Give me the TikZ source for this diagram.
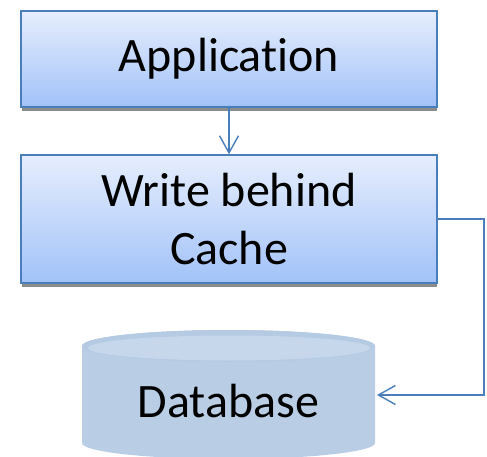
\documentclass[tikz,border=0pt]{standalone}
\usepackage{fontspec}
\setmainfont[Ligatures={NoCommon}]{Carlito}
\usetikzlibrary{arrows.meta}
\definecolor{boxedge}{HTML}{4A7EBB}
\definecolor{boxtop}{HTML}{E6EEFD}
\definecolor{boxbot}{HTML}{A2C2F8}
\definecolor{dbbody}{HTML}{B9CDE5}
\definecolor{dbrim}{HTML}{B5CAE3}
\definecolor{dbcap}{HTML}{C6D7EC}
\tikzset{
  procbox/.style={draw=boxedge, line width=1.6pt, top color=boxtop, bottom color=boxbot,
    minimum width=416pt, align=center, font=\fontsize{48}{58}\selectfont, inner sep=0pt},
  boxshadow/.style={fill=black!45},
  link/.style={draw=boxedge, line width=1.4pt, -{Straight Barb[length=17pt,width=19pt,line width=1.4pt]}},
  dblabel/.style={font=\fontsize{48}{58}\selectfont, inner sep=0pt}
}
\begin{document}
\begin{tikzpicture}[x=1pt,y=-1pt]
\useasboundingbox (0,0) rectangle (487,457);
% drop shadows under the two boxes
\fill[boxshadow] (22,107) rectangle (437,111);
\fill[boxshadow] (22,283) rectangle (437,287);
% boxes
\node[procbox, minimum height=96pt] (app) at (229,59) {Application};
\node[procbox, minimum height=128pt] (cache) at (229,219) {Write behind\\Cache};
% database cylinder (y axis points down, so the lower rim runs through 90 degrees)
\fill[dbbody] (82,346) -- (82,443) arc[start angle=180, end angle=0, x radius=146.5, y radius=16]
  -- (375,346) arc[start angle=360, end angle=180, x radius=146.5, y radius=16] -- cycle;
\fill[dbrim] (228.5,346) ellipse[x radius=146.5, y radius=16];
\fill[dbcap] (229,348) ellipse[x radius=141, y radius=12.5];
\node[dblabel] (db) at (228.5,401) {Database};
\coordinate (dbin) at (377,395);
\coordinate (turn) at (484,395);
% connectors
\draw[link] (app.south) -- (cache.north);
\draw[link] (cache.east) -| (turn) -- (dbin);
\end{tikzpicture}
\end{document}
